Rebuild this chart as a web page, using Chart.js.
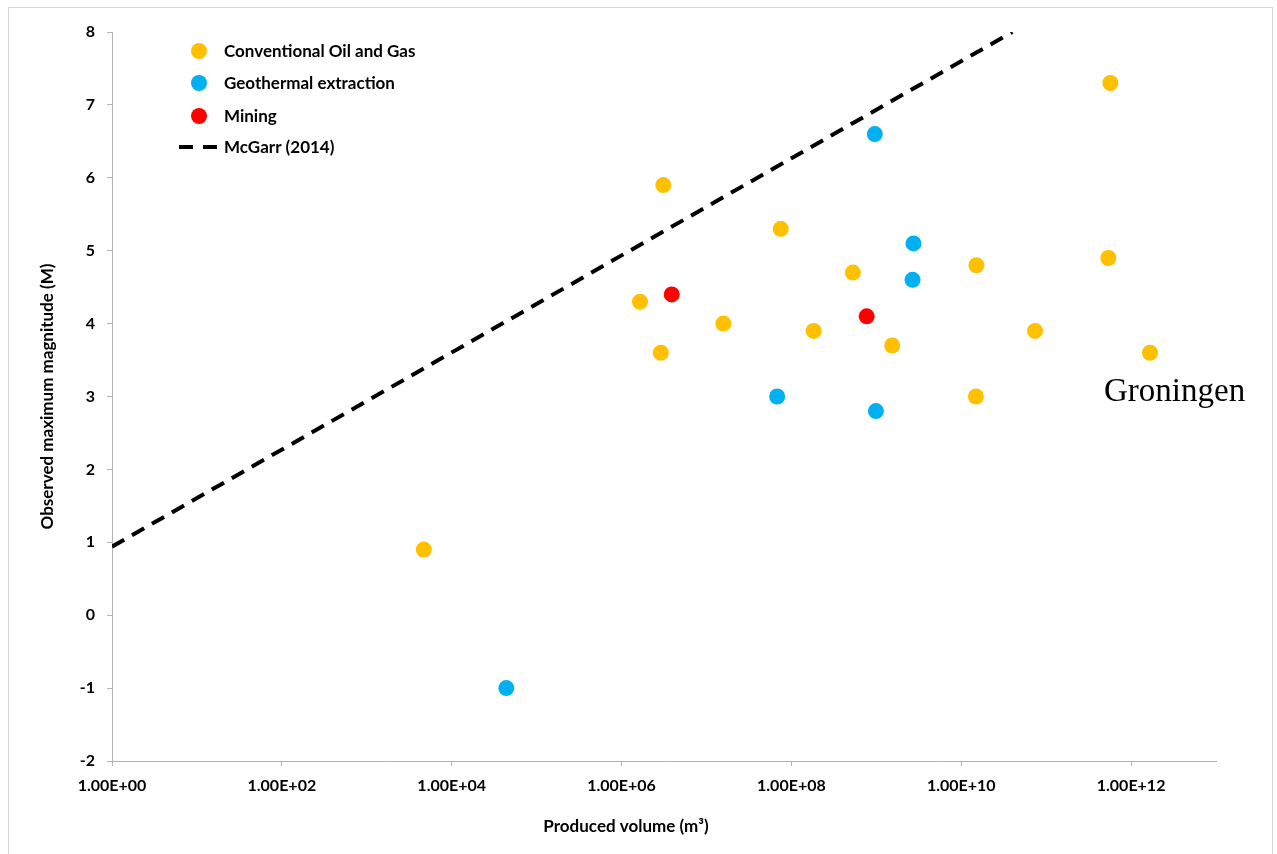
<!DOCTYPE html>
<html>
<head>
<meta charset="utf-8">
<script src="https://cdn.jsdelivr.net/npm/chart.js@4.4.1/dist/chart.umd.min.js"></script>
<style>
  html, body { margin: 0; padding: 0; background: #fff; overflow: hidden; }
  #wrap { position: relative; width: 1277px; height: 854px; }
  #frame { position: absolute; left: 8px; top: 7px; width: 1265px; height: 900px; border: 1px solid #d4d4d4; box-sizing: border-box; pointer-events: none; }
  canvas { position: absolute; left: 0; top: 0; }
</style>
</head>
<body>
<div id="wrap">
  <div id="frame"></div>
  <canvas id="c" width="1277" height="854"></canvas>
</div>
<script>
// ---- Data ----
const oilGasVolume = [4.7e3, 3.1e6, 1.65e6, 2.9e6, 1.58e7, 7.5e7, 1.83e8, 5.3e8, 1.54e9, 1.51e10, 1.49e10, 7.4e10, 5.4e11, 5.7e11, 1.67e12];
const oilGasMag    = [0.9,   5.9,   4.3,    3.6,   4.0,    5.3,   3.9,    4.7,   3.7,    4.8,     3.0,     3.9,    4.9,    7.3,    3.6];

const geoVolume = [4.4e4, 6.8e7, 9.6e8, 9.9e8, 2.74e9, 2.67e9];
const geoMag    = [-1.0,  3.0,   6.6,   2.8,   5.1,    4.6];

const miningVolume = [3.9e6, 7.7e8];
const miningMag    = [4.4,   4.1];

const mcgarrVolume = [1, 4.0e10];
const mcgarrMag    = [0.94, 8.0];

const xTickValues = [1, 1e2, 1e4, 1e6, 1e8, 1e10, 1e12];
const xTickLabels = ['1.00E+00', '1.00E+02', '1.00E+04', '1.00E+06', '1.00E+08', '1.00E+10', '1.00E+12'];

const seriesNames = ['Conventional Oil and Gas', 'Geothermal extraction', 'Mining', 'McGarr (2014)'];
const xTitle = 'Produced volume (m³)';
const yTitle = 'Observed maximum magnitude (M)';
const annotationText = 'Groningen';

// ---- Build chart ----
const toPts = (xs, ys) => xs.map((x, i) => ({ x: x, y: ys[i] }));
const COLORS = ['#FFC000', '#00B0F0', '#FF0000', '#000000'];
const AXIS = '#b3b3b3';
const FONT = 'Lato';

const overlay = {
  id: 'overlay',
  afterDraw(chart) {
    const ctx = chart.ctx;
    ctx.save();
    // legend
    const lx = 199, tx = 224;
    const ys = [51, 83, 116, 147];
    ctx.font = 'bold 17px ' + FONT;
    ctx.textBaseline = 'middle';
    ctx.textAlign = 'left';
    for (let i = 0; i < 3; i++) {
      ctx.beginPath();
      ctx.fillStyle = COLORS[i];
      ctx.arc(lx, ys[i], 8, 0, Math.PI * 2);
      ctx.fill();
    }
    ctx.beginPath();
    ctx.strokeStyle = '#000';
    ctx.lineWidth = 4;
    ctx.setLineDash([14, 10]);
    ctx.moveTo(179, ys[3]);
    ctx.lineTo(219, ys[3]);
    ctx.stroke();
    ctx.setLineDash([]);
    ctx.fillStyle = '#000';
    for (let i = 0; i < 4; i++) ctx.fillText(seriesNames[i], tx, ys[i] + 1);
    // x axis title
    ctx.textAlign = 'center';
    ctx.fillText(xTitle, 626, 827);
    // Groningen annotation
    ctx.font = '33px "Liberation Serif"';
    ctx.textAlign = 'left';
    ctx.textBaseline = 'alphabetic';
    ctx.fillText(annotationText, 1104, 401);
    ctx.restore();
  }
};

const scatterDs = (i, xs, ys) => ({
  type: 'scatter',
  label: seriesNames[i],
  data: toPts(xs, ys),
  backgroundColor: COLORS[i],
  borderColor: COLORS[i],
  borderWidth: 0,
  pointRadius: 8,
  pointHoverRadius: 8
});

new Chart(document.getElementById('c'), {
  type: 'scatter',
  data: {
    datasets: [
      scatterDs(0, oilGasVolume, oilGasMag),
      scatterDs(1, geoVolume, geoMag),
      scatterDs(2, miningVolume, miningMag),
      {
        type: 'line',
        label: seriesNames[3],
        data: toPts(mcgarrVolume, mcgarrMag),
        borderColor: '#000',
        borderWidth: 4,
        borderDash: [14, 9],
        pointRadius: 0,
        fill: false,
        showLine: true
      }
    ]
  },
  options: {
    responsive: false,
    animation: false,
    events: [],
    layout: { padding: { left: 20, top: 32, right: 61, bottom: 0 } },
    plugins: { legend: { display: false }, tooltip: { enabled: false } },
    scales: {
      x: {
        type: 'logarithmic',
        min: 1,
        max: 1e13,
        afterBuildTicks: (scale) => { scale.ticks = xTickValues.map(v => ({ value: v })); },
        afterFit: (scale) => { scale.height = 93; },
        ticks: {
          autoSkip: false,
          maxRotation: 0,
          padding: 10,
          color: '#000',
          font: { family: FONT, size: 16, weight: 'bold' },
          callback: (v) => { const i = xTickValues.indexOf(v); return i >= 0 ? xTickLabels[i] : ''; }
        },
        grid: { drawOnChartArea: false, drawTicks: true, tickLength: 5, color: AXIS },
        border: { display: true, color: AXIS, width: 1 }
      },
      y: {
        min: -2,
        max: 8,
        afterFit: (scale) => { scale.width = 92; },
        ticks: {
          stepSize: 1,
          padding: 12,
          color: '#000',
          font: { family: FONT, size: 16, weight: 'bold' }
        },
        title: {
          display: true,
          text: yTitle,
          color: '#000',
          font: { family: FONT, size: 17, weight: 'bold' },
          padding: { top: 17, bottom: 0 }
        },
        grid: { drawOnChartArea: false, drawTicks: true, tickLength: 5, color: AXIS },
        border: { display: true, color: AXIS, width: 1 }
      }
    }
  },
  plugins: [overlay]
});
</script>
</body>
</html>
